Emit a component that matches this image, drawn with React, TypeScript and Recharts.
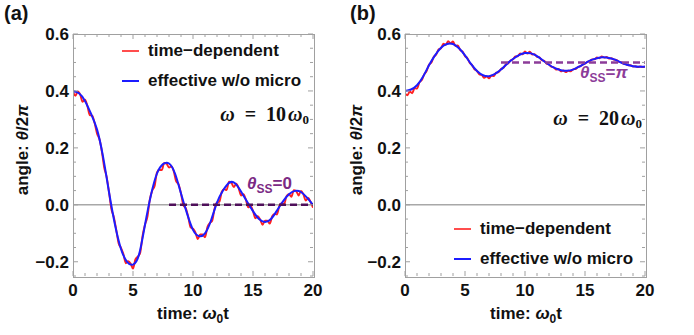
import React from "react";
import { LineChart, Line, XAxis, YAxis, ReferenceLine } from "recharts";

// time grids (ω0 t)
const tCoarse = [
  0, 0.5, 1, 1.5, 2, 2.5, 3, 3.5, 4, 4.5, 5, 5.5, 6, 6.5, 7, 7.5, 8, 8.5, 9, 9.5,
  10, 10.5, 11, 11.5, 12, 12.5, 13, 13.5, 14, 14.5, 15, 15.5, 16, 16.5, 17, 17.5,
  18, 18.5, 19, 19.5, 20,
];
const tFine = [
  0, 0.2, 0.4, 0.6, 0.8, 1, 1.2, 1.4, 1.6, 1.8, 2, 2.2, 2.4, 2.6, 2.8, 3, 3.2, 3.4,
  3.6, 3.8, 4, 4.2, 4.4, 4.6, 4.8, 5, 5.2, 5.4, 5.6, 5.8, 6, 6.2, 6.4, 6.6, 6.8, 7,
  7.2, 7.4, 7.6, 7.8, 8, 8.2, 8.4, 8.6, 8.8, 9, 9.2, 9.4, 9.6, 9.8, 10, 10.2, 10.4,
  10.6, 10.8, 11, 11.2, 11.4, 11.6, 11.8, 12, 12.2, 12.4, 12.6, 12.8, 13, 13.2,
  13.4, 13.6, 13.8, 14, 14.2, 14.4, 14.6, 14.8, 15, 15.2, 15.4, 15.6, 15.8, 16,
  16.2, 16.4, 16.6, 16.8, 17, 17.2, 17.4, 17.6, 17.8, 18, 18.2, 18.4, 18.6, 18.8,
  19, 19.2, 19.4, 19.6, 19.8, 20,
];

// (a) ω = 10ω0
const effA = [
  0.4, 0.392, 0.365, 0.32, 0.265, 0.17, 0.045, -0.07, -0.155, -0.2, -0.21, -0.175,
  -0.07, 0.035, 0.11, 0.143, 0.145, 0.11, 0.04, -0.03, -0.088, -0.11, -0.1, -0.055,
  0.008, 0.05, 0.077, 0.076, 0.047, 0.012, -0.022, -0.05, -0.06, -0.05, -0.02,
  0.012, 0.037, 0.049, 0.045, 0.025, 0,
];
const depA = [
  0.4, 0.383, 0.398, 0.387, 0.362, 0.369, 0.347, 0.315, 0.313, 0.287, 0.251, 0.231,
  0.189, 0.131, 0.099, 0.045, -0.015, -0.043, -0.087, -0.135, -0.151, -0.173,
  -0.205, -0.198, -0.206, -0.224, -0.192, -0.182, -0.168, -0.108, -0.07, -0.042,
  0.018, 0.05, 0.066, 0.114, 0.123, 0.122, 0.147, 0.144, 0.131, 0.135, 0.117,
  0.082, 0.072, 0.04, -0.002, -0.012, -0.042, -0.079, -0.084, -0.097, -0.12,
  -0.104, -0.104, -0.114, -0.078, -0.064, -0.056, -0.013, 0.008, 0.011, 0.046,
  0.055, 0.052, 0.081, 0.077, 0.062, 0.074, 0.059, 0.033, 0.037, 0.019, -0.009,
  -0.004, -0.022, -0.047, -0.04, -0.052, -0.07, -0.056, -0.056, -0.066, -0.04,
  -0.032, -0.034, -0.003, 0.006, 0.003, 0.031, 0.037, 0.028, 0.051, 0.048, 0.033,
  0.049, 0.037, 0.015, 0.024, 0.01, -0.01,
];

// (b) ω = 20ω0
const effB = [
  0.4, 0.405, 0.42, 0.45, 0.49, 0.525, 0.552, 0.565, 0.565, 0.55, 0.525, 0.495,
  0.47, 0.455, 0.452, 0.46, 0.475, 0.495, 0.512, 0.526, 0.533, 0.532, 0.522, 0.507,
  0.492, 0.48, 0.473, 0.471, 0.475, 0.485, 0.497, 0.508, 0.515, 0.518, 0.516, 0.51,
  0.5, 0.492, 0.487, 0.485, 0.485,
];
const depB = [
  0.392, 0.385, 0.398, 0.392, 0.41, 0.408, 0.43, 0.438, 0.458, 0.47, 0.492, 0.5,
  0.52, 0.528, 0.546, 0.55, 0.566, 0.562, 0.575, 0.567, 0.574, 0.558, 0.56, 0.544,
  0.538, 0.522, 0.515, 0.498, 0.49, 0.476, 0.47, 0.458, 0.456, 0.446, 0.452, 0.444,
  0.454, 0.452, 0.464, 0.466, 0.477, 0.481, 0.493, 0.497, 0.507, 0.511, 0.521,
  0.522, 0.532, 0.529, 0.539, 0.531, 0.538, 0.528, 0.529, 0.52, 0.518, 0.508,
  0.506, 0.496, 0.493, 0.485, 0.483, 0.475, 0.477, 0.469, 0.472, 0.466, 0.471,
  0.469, 0.476, 0.477, 0.484, 0.486, 0.493, 0.496, 0.502, 0.505, 0.511, 0.511,
  0.518, 0.515, 0.521, 0.517, 0.519, 0.514, 0.515, 0.51, 0.509, 0.503, 0.501,
  0.496, 0.494, 0.49, 0.49, 0.486, 0.487, 0.484, 0.486, 0.484, 0.486,
];

// steady-state markers
const ssTime = [8, 20];
const ssA = [0, 0];
const ssB = [0.5, 0.5];

const xTicks = [0, 1, 2, 3, 4, 5, 6, 7, 8, 9, 10, 11, 12, 13, 14, 15, 16, 17, 18, 19, 20];
const yTicks = [
  -0.25, -0.2, -0.15, -0.1, -0.05, 0, 0.05, 0.1, 0.15, 0.2, 0.25, 0.3, 0.35, 0.4,
  0.45, 0.5, 0.55, 0.6,
];

const FRAME = "#a0a0a0";
const RED = "#ff2020";
const BLUE = "#1c1cff";
const SANS = "'Liberation Sans', Arial, sans-serif";
const SERIF = "'Liberation Serif', 'Times New Roman', serif";

const zip = (ts: number[], vs: number[]) => ts.map((t, i) => ({ t, v: vs[i] }));

const isMajorY = (v: number) => Math.abs(v * 5 - Math.round(v * 5)) < 1e-6;
const fmtY = (v: number) => (v < 0 ? "\u2212" + Math.abs(v).toFixed(1) : v.toFixed(1));

// plot box edges in chart coordinates
const TOP = 34;
const BOTTOM = 276;

const BottomTick = ({ x, payload }: any) => {
  const major = payload.value % 5 === 0;
  return (
    <g>
      <line x1={x} x2={x} y1={BOTTOM} y2={BOTTOM - (major ? 5 : 3)} stroke={FRAME} />
      {major && (
        <text x={x} y={BOTTOM + 20} textAnchor="middle" fontFamily={SANS} fontWeight="bold" fontSize={17} fill="#111">
          {payload.value}
        </text>
      )}
    </g>
  );
};

const TopTick = ({ x, payload }: any) => {
  const major = payload.value % 5 === 0;
  return <line x1={x} x2={x} y1={TOP} y2={TOP + (major ? 5 : 3)} stroke={FRAME} />;
};

const LeftTick = ({ y, payload, edge }: any) => {
  const major = isMajorY(payload.value);
  return (
    <g>
      <line x1={edge} x2={edge + (major ? 5 : 3)} y1={y} y2={y} stroke={FRAME} />
      {major && (
        <text x={edge - 4} y={y + 6} textAnchor="end" fontFamily={SANS} fontWeight="bold" fontSize={17} fill="#111">
          {fmtY(payload.value)}
        </text>
      )}
    </g>
  );
};

const RightTick = ({ y, payload, edge }: any) => {
  const major = isMajorY(payload.value);
  return <line x1={edge} x2={edge - (major ? 5 : 3)} y1={y} y2={y} stroke={FRAME} />;
};

const abs = (left: number, top: number, extra: React.CSSProperties = {}): React.CSSProperties => ({
  position: "absolute",
  left,
  top,
  whiteSpace: "nowrap",
  lineHeight: 1,
  ...extra,
});

const sansBold: React.CSSProperties = { fontFamily: SANS, fontWeight: "bold", fontSize: 17, color: "#111" };

function LegendBox({ left, top }: { left: number; top: number }) {
  return (
    <>
      <div style={abs(left, top - 1, { width: 17, height: 2, background: RED, opacity: 0.8 })} />
      <div style={abs(left + 26, top - 9, sansBold)}>time{"\u2212"}dependent</div>
      <div style={abs(left, top + 29, { width: 17, height: 2, background: BLUE })} />
      <div style={abs(left + 26, top + 21, sansBold)}>effective w/o micro</div>
    </>
  );
}

type PanelProps = {
  tag: string;
  eff: number[];
  dep: number[];
  ss: number[];
  ssColor: string;
  left: number;
  right: number;
};

function Panel({ tag, eff, dep, ss, ssColor, left, right }: PanelProps) {
  const W = 347;
  return (
    <LineChart
      width={W}
      height={335}
      margin={{ top: TOP - 1, right: W - right - 1, bottom: 335 - BOTTOM - 1, left: left - 1 }}
    >
      <XAxis
        dataKey="t"
        type="number"
        domain={[0, 20]}
        ticks={xTicks}
        interval={0}
        height={1}
        tickLine={false}
        tick={<BottomTick />}
        axisLine={false}
        allowDataOverflow
      />
      <XAxis
        xAxisId="top"
        orientation="top"
        dataKey="t"
        type="number"
        domain={[0, 20]}
        ticks={xTicks}
        interval={0}
        height={1}
        tickLine={false}
        tick={<TopTick />}
        axisLine={false}
        allowDataOverflow
      />
      <YAxis
        type="number"
        domain={[-0.25, 0.6]}
        ticks={yTicks}
        interval={0}
        width={1}
        tickLine={false}
        tick={<LeftTick edge={left} />}
        axisLine={false}
        allowDataOverflow
      />
      <YAxis
        yAxisId="right"
        orientation="right"
        type="number"
        domain={[-0.25, 0.6]}
        ticks={yTicks}
        interval={0}
        width={1}
        tickLine={false}
        tick={<RightTick edge={right} />}
        axisLine={false}
        allowDataOverflow
      />
      <ReferenceLine y={0} stroke="#a8a8a8" strokeWidth={1.5} />
      <Line
        data={zip(tFine, dep)}
        dataKey="v"
        type="monotone"
        stroke={RED}
        strokeWidth={1.9}
        dot={false}
        isAnimationActive={false}
        name={`${tag}-dep`}
      />
      <Line
        data={zip(tCoarse, eff)}
        dataKey="v"
        type="natural"
        stroke={BLUE}
        strokeWidth={2}
        dot={false}
        isAnimationActive={false}
        name={`${tag}-eff`}
      />
      <Line
        data={zip(ssTime, ss)}
        dataKey="v"
        type="linear"
        stroke={ssColor}
        strokeWidth={2.6}
        strokeDasharray="7 4"
        dot={false}
        isAnimationActive={false}
        name={`${tag}-ss`}
      />
    </LineChart>
  );
}

// gray frame around a plot box
const Frame = ({ left, right }: { left: number; right: number }) => (
  <div
    style={{
      position: "absolute",
      left: left - 0.5,
      top: TOP - 0.5,
      width: right - left,
      height: BOTTOM - TOP,
      border: `1px solid ${FRAME}`,
      pointerEvents: "none",
    }}
  />
);

const YLabel = ({ cx, cy }: { cx: number; cy: number }) => (
  <div
    style={abs(cx, cy, {
      ...sansBold,
      transform: "translate(-50%, -50%) rotate(-90deg)",
    })}
  >
    angle: <i>θ</i>/2<i>π</i>
  </div>
);

const XLabel = ({ cx, cy }: { cx: number; cy: number }) => (
  <div style={abs(cx, cy, { ...sansBold, transform: "translate(-50%, -50%)" })}>
    time: <i>ω</i>
    <sub style={{ fontSize: 12 }}>0</sub>t
  </div>
);

const Omega = ({ right, top, n }: { right: number; top: number; n: string }) => (
  <div
    style={{
      position: "absolute",
      right,
      top,
      lineHeight: 1,
      whiteSpace: "nowrap",
      fontFamily: SERIF,
      fontWeight: "bold",
      fontSize: 20,
      color: "#111",
    }}
  >
    <i>ω</i>&nbsp;&nbsp;=&nbsp;&nbsp;{n}
    <i style={{ marginLeft: 2 }}>ω</i>
    <sub style={{ fontSize: 13, verticalAlign: "-3px" }}>0</sub>
  </div>
);

const SSLabel = ({ left, top, color, val }: { left: number; top: number; color: string; val: React.ReactNode }) => (
  <div style={abs(left, top, { ...sansBold, color })}>
    <i>θ</i>
    <sub style={{ fontSize: 12 }}>SS</sub>={val}
  </div>
);

export default function App() {
  return (
    <div style={{ position: "absolute", left: 0, top: 0, width: 694, height: 335, background: "#fff", overflow: "hidden" }}>
      <div style={{ position: "absolute", left: 0, top: 0 }}>
        <Panel tag="a" eff={effA} dep={depA} ss={ssA} ssColor="#4e0f5a" left={73} right={313} />
      </div>
      <div style={{ position: "absolute", left: 347, top: 0 }}>
        <Panel tag="b" eff={effB} dep={depB} ss={ssB} ssColor="#8c3c99" left={58} right={298} />
      </div>
      <Frame left={73} right={313} />
      <Frame left={405} right={645} />

      <div style={abs(4, 3, { ...sansBold, fontSize: 20 })}>(a)</div>
      <div style={abs(350, 3, { ...sansBold, fontSize: 20 })}>(b)</div>

      <YLabel cx={22} cy={150} />
      <YLabel cx={356} cy={150} />
      <XLabel cx={193} cy={315} />
      <XLabel cx={526} cy={315} />

      <LegendBox left={122} top={51} />
      <LegendBox left={454} top={229} />

      <Omega right={694 - 309} top={104} n="10" />
      <Omega right={694 - 642} top={108} n="20" />

      <SSLabel left={247} top={175} color="#7b2a84" val="0" />
      <SSLabel left={580} top={64} color="#8c3c99" val={<i>π</i>} />
    </div>
  );
}
